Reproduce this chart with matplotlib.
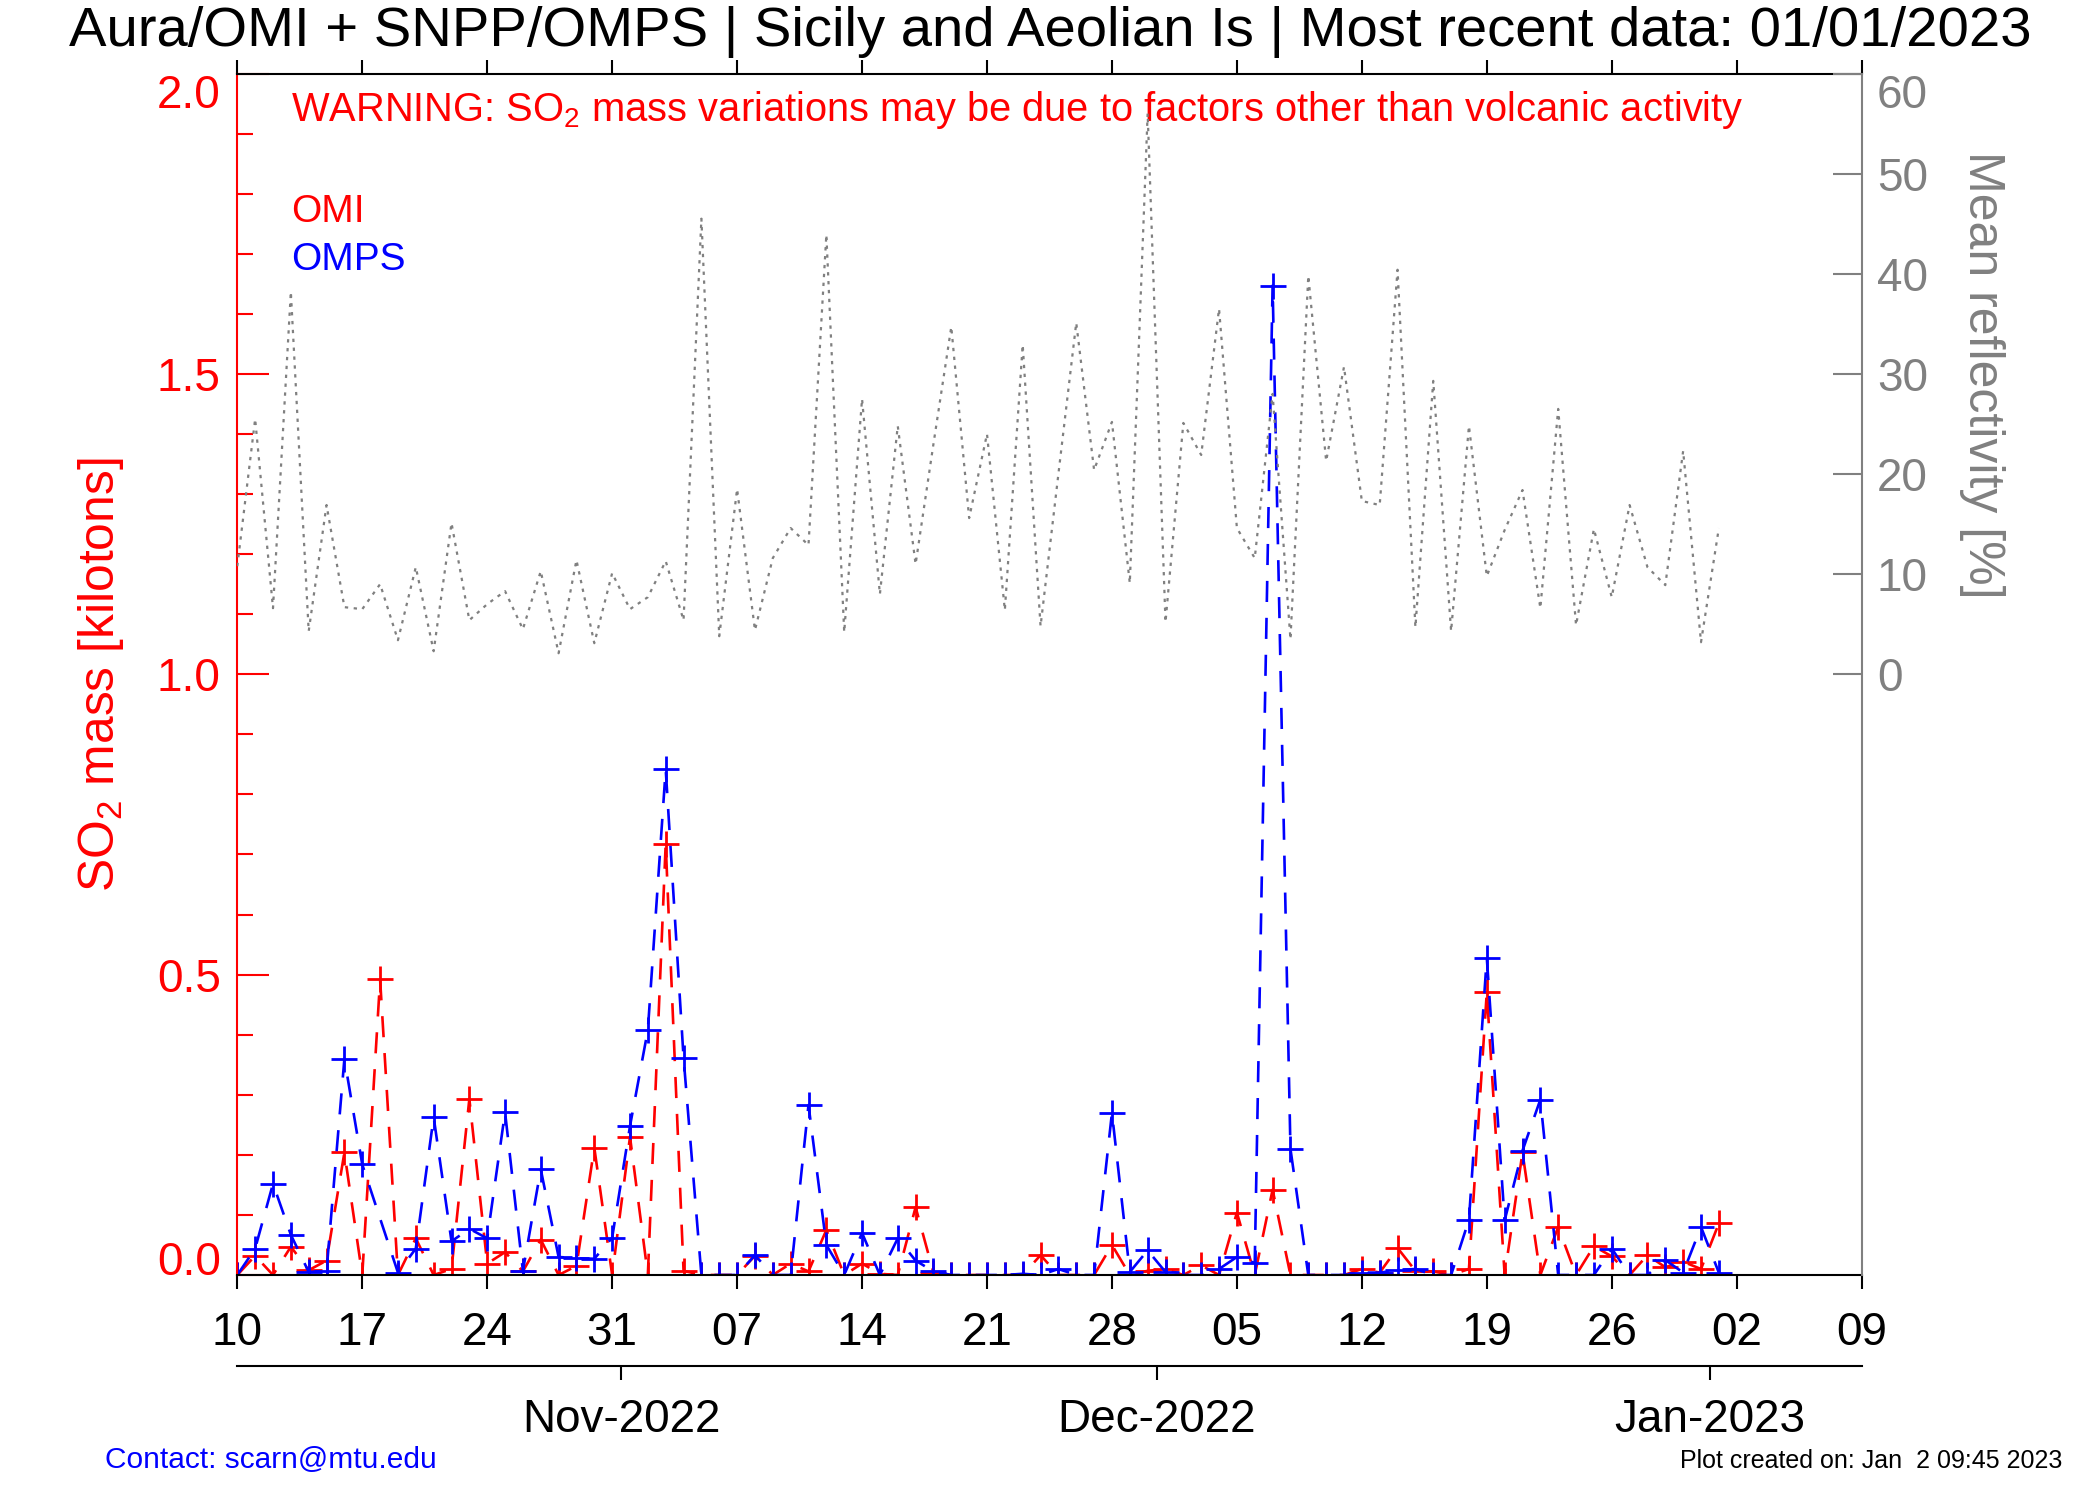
import numpy as np
import pandas as pd
import matplotlib
matplotlib.use('Agg')
import matplotlib.pyplot as plt
import matplotlib.dates as mdates
from matplotlib.ticker import MultipleLocator

plt.rcParams['font.family'] = ['Liberation Sans', 'DejaVu Sans']
plt.rcParams['mathtext.fontset'] = 'custom'
plt.rcParams['mathtext.rm'] = 'Liberation Sans'
plt.rcParams['mathtext.it'] = 'Liberation Sans'

# daily values, 10 Oct 2022 .. 01 Jan 2023
start_day = '2022-10-10'

omi_so2 = [0.0, 0.032, 0.0, 0.047, 0.008, 0.024, 0.204, 0.0, 0.492, 0.0,
           0.061, 0.0, 0.010, 0.293, 0.019, 0.038, 0.006, 0.059, 0.0, 0.015,
           0.212, 0.0, 0.230, 0.0, 0.718, 0.007, 0.0, 0.0, 0.0, 0.032,
           0.0, 0.019, 0.006, 0.075, 0.0, 0.019, 0.002, 0.0, 0.113, 0.004,
           0.0, 0.0, 0.0, 0.0, 0.0, 0.033, 0.0, 0.0, 0.0, 0.050,
           0.0, 0.007, 0.010, 0.0, 0.016, 0.0, 0.104, 0.0, 0.142, 0.0,
           0.0, 0.0, 0.0, 0.010, 0.004, 0.045, 0.007, 0.006, 0.0, 0.010,
           0.471, 0.0, 0.204, 0.0, 0.080, 0.0, 0.048, 0.031, 0.0, 0.033,
           0.013, 0.022, 0.010, 0.086]

omps_so2 = [0.0, 0.044, 0.152, 0.067, 0.005, 0.007, 0.360, 0.184, None, 0.004,
            0.044, 0.263, 0.056, 0.077, 0.061, 0.271, 0.007, 0.176, 0.030, 0.028,
            0.027, 0.062, 0.248, 0.408, 0.842, 0.362, 0.0, 0.0, 0.0, 0.033,
            0.0, 0.0, 0.283, 0.050, 0.0, 0.070, 0.0, 0.061, 0.024, 0.006,
            0.0, 0.0, 0.0, 0.0, 0.002, 0.0, 0.010, 0.0, 0.0, 0.270,
            0.005, 0.041, 0.005, 0.0, 0.0, 0.010, 0.030, 0.020, 1.647, 0.210,
            0.0, 0.0, 0.0, 0.004, 0.004, 0.008, 0.010, 0.0, 0.0, 0.092,
            0.528, 0.091, 0.207, 0.292, 0.0, 0.0, 0.0, 0.044, 0.0, 0.0,
            0.025, 0.004, 0.080, 0.004]

reflectivity = [10.8, 25.5, 6.6, 38.2, 4.3, 16.9, 6.7, 6.5, 9.0, 3.4,
                10.7, 2.3, 15.1, 5.4, 7.0, 8.3, 4.5, 10.3, 2.1, 11.4,
                3.1, 10.1, 6.5, 7.7, 11.3, 5.4, 45.5, 3.8, 18.5, 4.4,
                11.6, 14.6, 12.9, 43.9, 4.2, 27.5, 8.0, 24.8, 11.0, 23.0,
                34.7, 15.6, 24.0, 6.4, 32.9, 4.8, 20.0, 35.1, 20.4, 25.2,
                9.1, 56.0, 5.2, 25.1, 21.9, 36.5, 14.6, 11.6, 28.0, 3.5,
                39.8, 21.3, 30.7, 17.3, 16.9, 40.4, 4.7, 29.3, 4.3, 24.8,
                9.8, 14.4, 18.4, 6.6, 26.5, 4.9, 14.5, 7.7, 16.9, 10.7,
                8.9, 22.3, 3.2, 14.6]

so2_ticks = [0.0, 0.5, 1.0, 1.5, 2.0]
refl_ticks = [0, 10, 20, 30, 40, 50, 60]
month_starts = ['2022-11-01', '2022-12-01', '2023-01-01']
month_labels = ['Nov-2022', 'Dec-2022', 'Jan-2023']

title = 'Aura/OMI + SNPP/OMPS | Sicily and Aeolian Is | Most recent data: 01/01/2023'
warning = r'WARNING: SO$_\mathrm{2}$ mass variations may be due to factors other than volcanic activity'

days = mdates.date2num(pd.date_range(start_day, periods=len(omi_so2), freq='D'))
omi = np.array(omi_so2, dtype=float)
omps = np.array([np.nan if v is None else v for v in omps_so2])
ok = ~np.isnan(omps)

gray = '#808080'
fs = 33

fig = plt.figure(figsize=(21, 15), dpi=100)
ax = fig.add_axes([0.113, 0.15, 0.7735, 0.801])

ax.plot(days, omi, color='red', lw=1.9, dashes=(8, 6), marker='+', ms=19, mew=2)
ax.plot(days[ok], omps[ok], color='blue', lw=1.9, dashes=(8, 6), marker='+', ms=19, mew=2)

ax.set_xlim(mdates.date2num(pd.Timestamp('2022-10-10')), mdates.date2num(pd.Timestamp('2023-01-09')))
ax.set_ylim(0, 2.0)
ax.set_xticks(mdates.date2num(pd.date_range('2022-10-10', '2023-01-09', freq='7D')))
ax.xaxis.set_major_formatter(mdates.DateFormatter('%d'))
ax.tick_params(axis='x', direction='out', top=True, bottom=True, length=10, width=1.5,
               labelsize=fs, pad=16, colors='black')
ax.set_yticks(so2_ticks)
ax.yaxis.set_minor_locator(MultipleLocator(0.1))
ax.yaxis.set_major_formatter(plt.FormatStrFormatter('%.1f'))
ax.tick_params(axis='y', which='major', direction='in', length=23, width=1.5,
               colors='red', labelsize=fs, pad=12, right=False)
ax.tick_params(axis='y', which='minor', direction='in', length=11.5, width=1.5,
               color='red', right=False)
yt = ax.yaxis.get_major_ticks()
yt[0].label1.set_verticalalignment('baseline')
yt[-1].label1.set_verticalalignment('top')
ax.spines['left'].set_color('red')
ax.spines['right'].set_visible(False)
for s in ['left', 'top', 'bottom']:
    ax.spines[s].set_linewidth(1.5)

ax.text(days[3], 1.94, warning, color='red', fontsize=28.7, va='center')
ax.text(days[3], 1.77, 'OMI', color='red', fontsize=28, va='center')
ax.text(days[3], 1.69, 'OMPS', color='blue', fontsize=28, va='center')

ax2 = ax.twinx()
ax2.plot(days, reflectivity, color=gray, lw=1.6, dashes=(1.5, 2.5))
ax2.set_ylim(-60, 60)
ax2.set_yticks(refl_ticks)
ax2.tick_params(axis='y', direction='in', length=21, width=1.5, colors=gray,
                labelsize=fs, pad=11)
ax2.yaxis.get_major_ticks()[-1].label2.set_verticalalignment('top')
for s in ['left', 'top', 'bottom']:
    ax2.spines[s].set_visible(False)
ax2.spines['right'].set_color(gray)
ax2.spines['right'].set_linewidth(1.5)

# month axis below the day numbers
sec = ax.secondary_xaxis(-0.0761)
sec.set_xticks(mdates.date2num(pd.to_datetime(month_starts)) - 0.5, labels=month_labels)
sec.tick_params(direction='out', length=10, width=1.5, labelsize=fs, pad=13)
sec.spines['bottom'].set_linewidth(1.5)

fig.text(0.5, 0.979, title, ha='center', va='center', fontsize=40.5)
fig.text(0.048, 0.55, r'SO$_\mathrm{2}$ mass [kilotons]', rotation=90, color='red',
         fontsize=35.8, ha='center', va='center')
fig.text(0.944, 0.75, 'Mean reflectivity [%]', rotation=270, color=gray,
         fontsize=36, ha='center', va='center')
fig.text(0.05, 0.027, 'Contact: scarn@mtu.edu', color='blue', fontsize=21.5, va='center')
fig.text(0.982, 0.026, 'Plot created on: Jan  2 09:45 2023', ha='right', va='center', fontsize=18)

fig.savefig('out.png', dpi=100)
